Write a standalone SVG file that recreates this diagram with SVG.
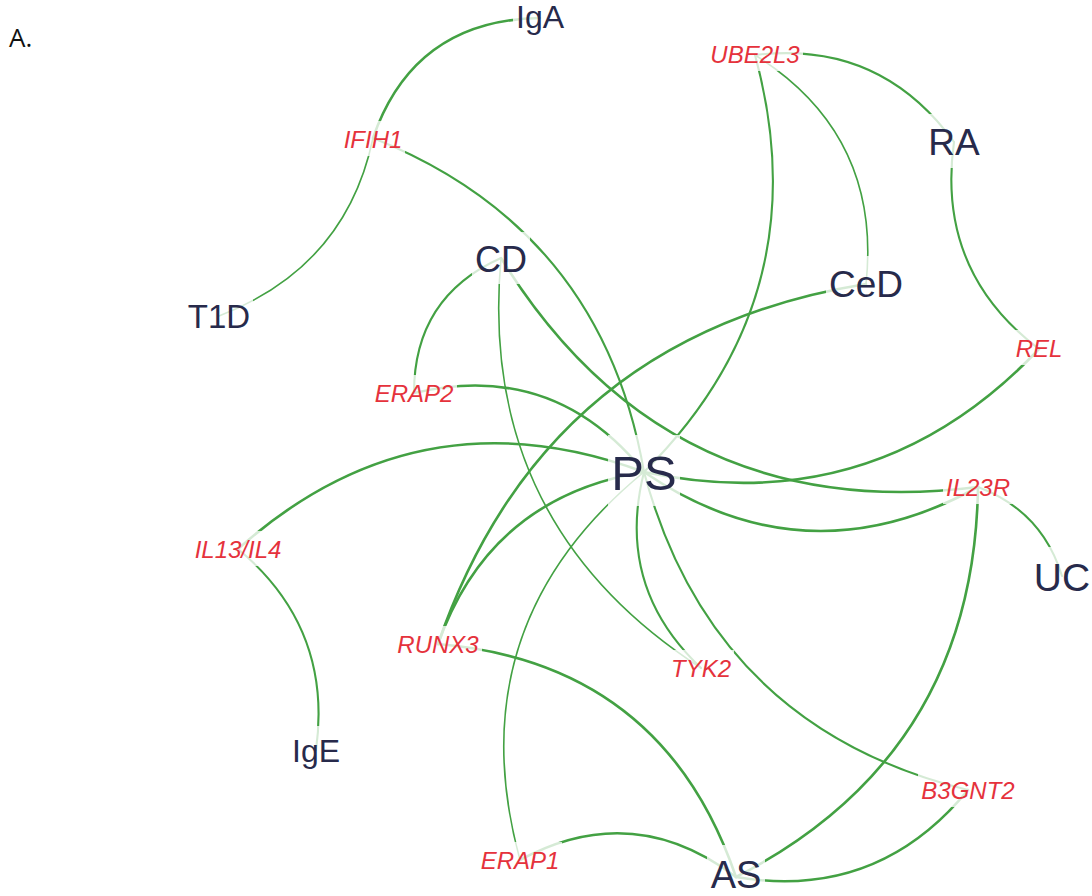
<svg xmlns="http://www.w3.org/2000/svg" width="1092" height="896" viewBox="0 0 1092 896">
<style>
.e{fill:none;stroke:#43a143;stroke-linecap:round}
.k{stroke-width:2.6}
.m{stroke-width:2.1}
.t{stroke-width:1.6}
.bg{fill:#ffffff;fill-opacity:0.78}
.g{font-family:"Liberation Sans",Arial,sans-serif;font-style:italic;font-size:24px;fill:#e5323c;text-anchor:middle}
.d{font-family:"Liberation Sans",Arial,sans-serif;fill:#272a4b;text-anchor:middle}
</style>
<rect width="1092" height="896" fill="#ffffff"/>
<text x="9" y="47" font-family="'Open Sans','Liberation Sans',sans-serif" font-size="26" fill="#111">A.</text>
<g id="connectors">
<path class="e k" d="M540 18 Q414 20 373 138"/>
<path class="e t" d="M373 138 Q346 267 219 316"/>
<path class="e m" d="M373 138 Q602 229 644 472"/>
<path class="e m" d="M755 55 Q880 40 954 142"/>
<path class="e t" d="M755 55 Q882 135 866 284"/>
<path class="e m" d="M755 55 Q821 296 644 472"/>
<path class="e m" d="M954 142 Q936 271 1039 349"/>
<path class="e k" d="M866 284 Q544 336 438 644"/>
<path class="e k" d="M1039 349 Q876 521 644 472"/>
<path class="e m" d="M501 258 Q414 297 414 393"/>
<path class="e t" d="M501 258 Q477 523 701 668"/>
<path class="e k" d="M501 258 Q666 526 978 487"/>
<path class="e k" d="M414 393 Q554 360 644 472"/>
<path class="e k" d="M238 549 Q418 388 644 472"/>
<path class="e m" d="M238 549 Q333 628 316 750"/>
<path class="e k" d="M644 472 Q806 582 978 487"/>
<path class="e m" d="M978 487 Q1042 511 1062 576"/>
<path class="e k" d="M978 487 Q974 755 736 877"/>
<path class="e k" d="M644 472 Q490 497 438 644"/>
<path class="e m" d="M644 472 Q615 587 701 668"/>
<path class="e m" d="M644 472 Q712 727 968 790"/>
<path class="e t" d="M520 860 Q456 626 644 472"/>
<path class="e k" d="M520 860 Q633 799 736 877"/>
<path class="e k" d="M736 877 Q877 901 968 790"/>
<path class="e k" d="M438 644 Q663 663 736 877"/>
</g>
<g id="IgA"><rect class="bg" x="513" y="-8" width="54" height="46"/><text class="d" x="540" y="28" font-size="32">IgA</text></g>
<g id="UBE2L3"><rect class="bg" x="707" y="36" width="96" height="35"/><text class="g" x="755" y="63">UBE2L3</text></g>
<g id="RA"><rect class="bg" x="925" y="114" width="58" height="54"/><text class="d" x="954" y="155" font-size="37">RA</text></g>
<g id="IFIH1"><rect class="bg" x="341" y="121" width="64" height="35"/><text class="g" x="373" y="148">IFIH1</text></g>
<g id="CD"><rect class="bg" x="472" y="232" width="58" height="52"/><text class="d" x="501" y="272" font-size="36">CD</text></g>
<g id="CeD"><rect class="bg" x="826" y="256" width="80" height="54"/><text class="d" x="866" y="297" font-size="37">CeD</text></g>
<g id="T1D"><rect class="bg" x="185" y="291" width="68" height="48"/><text class="d" x="219" y="328" font-size="33">T1D</text></g>
<g id="REL"><rect class="bg" x="1012" y="330" width="54" height="35"/><text class="g" x="1039" y="357">REL</text></g>
<g id="ERAP2"><rect class="bg" x="371" y="375" width="86" height="35"/><text class="g" x="414" y="402">ERAP2</text></g>
<g id="PS"><rect class="bg" x="608" y="435" width="72" height="71"/><text class="d" x="644" y="490" font-size="49">PS</text></g>
<g id="IL23R"><rect class="bg" x="943" y="469" width="70" height="35"/><text class="g" x="978" y="496">IL23R</text></g>
<g id="IL13_IL4"><rect class="bg" x="191" y="531" width="94" height="35"/><text class="g" x="238" y="558">IL13/IL4</text></g>
<g id="UC"><rect class="bg" x="1031" y="547" width="62" height="57"/><text class="d" x="1062" y="591" font-size="39">UC</text></g>
<g id="RUNX3"><rect class="bg" x="394" y="626" width="88" height="35"/><text class="g" x="438" y="653">RUNX3</text></g>
<g id="TYK2"><rect class="bg" x="668" y="650" width="66" height="35"/><text class="g" x="701" y="677">TYK2</text></g>
<g id="IgE"><rect class="bg" x="289" y="726" width="54" height="46"/><text class="d" x="316" y="762" font-size="32">IgE</text></g>
<g id="B3GNT2"><rect class="bg" x="918" y="772" width="100" height="35"/><text class="g" x="968" y="799">B3GNT2</text></g>
<g id="ERAP1"><rect class="bg" x="478" y="842" width="84" height="35"/><text class="g" x="520" y="869">ERAP1</text></g>
<g id="AS"><rect class="bg" x="707" y="845" width="58" height="51"/><text class="d" x="736" y="888" font-size="38">AS</text></g>
</svg>
